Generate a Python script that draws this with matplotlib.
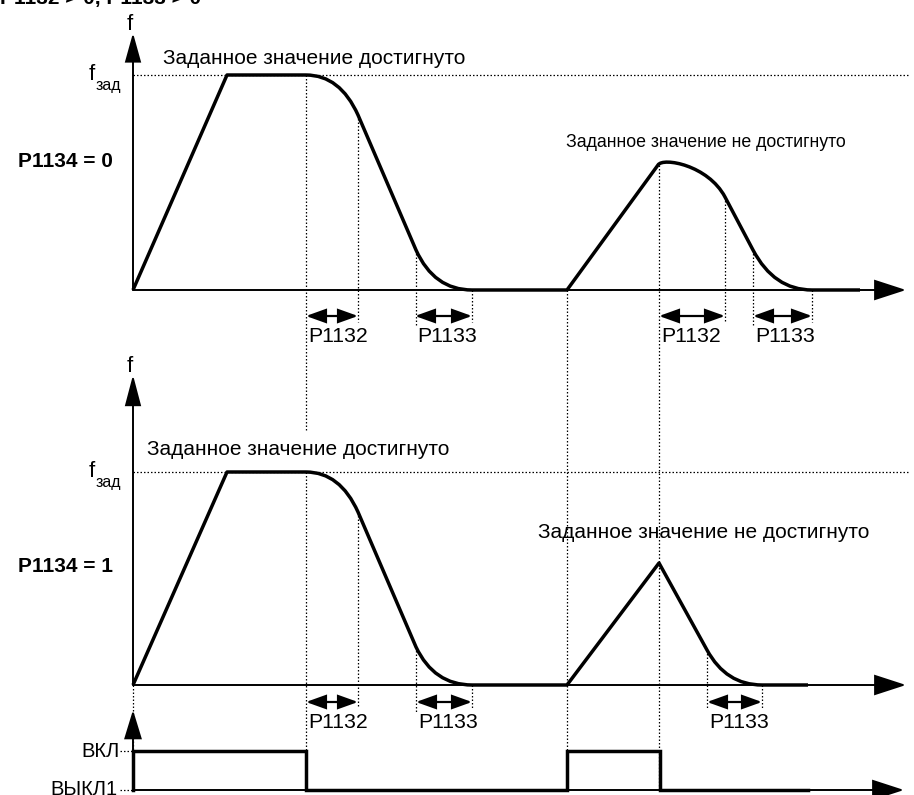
import matplotlib
matplotlib.use("Agg")
import matplotlib.pyplot as plt
from matplotlib.path import Path
from matplotlib.patches import PathPatch

plt.rcParams["font.family"] = ["Liberation Sans", "DejaVu Sans"]

W, H = 914, 795

M, L, Q, C = Path.MOVETO, Path.LINETO, Path.CURVE3, Path.CURVE4

# frequency curve, P1134 = 0 (rounding at both ends of the down ramp)
top_x = [133, 227, 306, 340, 358, 416, 434, 472, 567, 658, 663, 708, 725, 753, 774, 812, 860]
top_y = [290, 75, 75, 75, 115, 250, 290, 290, 290, 165, 157, 165, 197, 250, 290, 290, 290]
top_codes = [M, L, L, Q, Q, L, Q, Q, L, L, C, C, C, L, Q, Q, L]

# frequency curve, P1134 = 1
low_x = [133, 227, 306, 340, 358, 416, 434, 472, 567, 659, 707, 726, 762, 808]
low_y = [685, 472, 472, 472, 512, 647, 685, 685, 685, 563, 650, 685, 685, 685]
low_codes = [M, L, L, Q, Q, L, Q, Q, L, L, L, Q, Q, L]

# ON / OFF1 command
cmd_x = [133, 133, 306, 306, 567, 567, 660, 660, 808]
cmd_y = [790, 751, 751, 790, 790, 751, 751, 790, 790]

# set-point levels
fset_y = [75, 472]

# vertical dotted guides: x, y from, y to
guide_x = [306, 306, 567, 659, 133, 358, 416, 472, 725, 753, 812, 358, 416, 472, 707, 762]
guide_y0 = [75, 472, 290, 165, 685, 115, 250, 290, 197, 250, 290, 512, 647, 685, 650, 685]
guide_y1 = [430, 790, 790, 790, 790, 322, 327, 322, 322, 327, 322, 708, 713, 708, 708, 708]

# dimension arrows: start, end, level, label
dim_x0 = [306, 415, 659, 753, 306, 416, 707]
dim_x1 = [358, 472, 725, 812, 358, 472, 762]
dim_y = [316, 316, 316, 316, 702, 702, 702]
dim_lbl = ["P1132", "P1133", "P1132", "P1133", "P1132", "P1133", "P1133"]

fig = plt.figure(figsize=(W / 100, H / 100), dpi=100)
ax = fig.add_axes([0, 0, 1, 1])
ax.set_xlim(0, W)
ax.set_ylim(H, 0)
ax.axis("off")

dot = (0, (1.2, 1.6))


def arrow(x0, y0, x1, y1, style, lw=1.4, ms=10):
    ax.annotate("", xy=(x1, y1), xytext=(x0, y0),
                arrowprops=dict(arrowstyle=style, lw=lw, color="black",
                                shrinkA=0, shrinkB=0, mutation_scale=ms,
                                joinstyle="miter"))


# axes
arrow(133, 290, 133, 33, "-|>,head_length=1.8,head_width=0.5")
arrow(133, 290, 906, 290, "-|>,head_length=2.0,head_width=0.65")
arrow(133, 685, 133, 375, "-|>,head_length=1.9,head_width=0.5")
arrow(133, 685, 906, 685, "-|>,head_length=2.0,head_width=0.65")
arrow(133, 790, 133, 710, "-|>,head_length=1.8,head_width=0.55")
arrow(133, 790, 904, 790, "-|>,head_length=2.0,head_width=0.65")

# dotted set-point lines and guides
for y in fset_y:
    ax.plot([133, 910], [y, y], color="black", lw=0.9, ls=dot)
for x, y0, y1 in zip(guide_x, guide_y0, guide_y1):
    ax.plot([x, x], [y0, y1], color="black", lw=0.9, ls=dot)
for y in [751, 790]:
    ax.plot([120, 133], [y, y], color="black", lw=0.9, ls=dot)

# curves
for xs, ys, codes in [(top_x, top_y, top_codes), (low_x, low_y, low_codes)]:
    path = Path(list(zip(xs, ys)), codes)
    ax.add_patch(PathPatch(path, fill=False, lw=2.5, edgecolor="black",
                           joinstyle="round", capstyle="butt"))
ax.plot(cmd_x, cmd_y, color="black", lw=2.5, solid_joinstyle="miter")

# dimension arrows
for x0, x1, y, lbl in zip(dim_x0, dim_x1, dim_y, dim_lbl):
    arrow(x0, y, x1, y, "<|-|>,head_length=1.2,head_width=0.43", lw=1.6)
    ax.text(x0 + 2, y + 26, lbl, fontsize=15.3, va="baseline", ha="left")

# texts
ax.text(0, 4, "P1132 > 0, P1133 > 0", fontsize=15, fontweight="bold", va="baseline")
ax.text(130, 30, "f", fontsize=16, ha="center", va="baseline")
ax.text(130, 372, "f", fontsize=16, ha="center", va="baseline")
for y in fset_y:
    ax.text(89, y + 5, "f", fontsize=16, ha="left", va="baseline")
    ax.text(96, y + 15, "зад", fontsize=11.5, ha="left", va="baseline")
ax.text(18, 167, "P1134 = 0", fontsize=15, fontweight="bold", va="baseline")
ax.text(18, 572, "P1134 = 1", fontsize=15, fontweight="bold", va="baseline")
ax.text(163, 64, "Заданное значение достигнуто", fontsize=15, va="baseline")
ax.text(147, 455, "Заданное значение достигнуто", fontsize=15, va="baseline")
ax.text(566, 147, "Заданное значение не достигнуто", fontsize=12.8, va="baseline")
ax.text(538, 538, "Заданное значение не достигнуто", fontsize=15, va="baseline")
ax.text(120, 757, "ВКЛ", fontsize=14.5, ha="right", va="baseline")
ax.text(118, 795, "ВЫКЛ1", fontsize=14.5, ha="right", va="baseline")

fig.savefig("out.png", dpi=100)
